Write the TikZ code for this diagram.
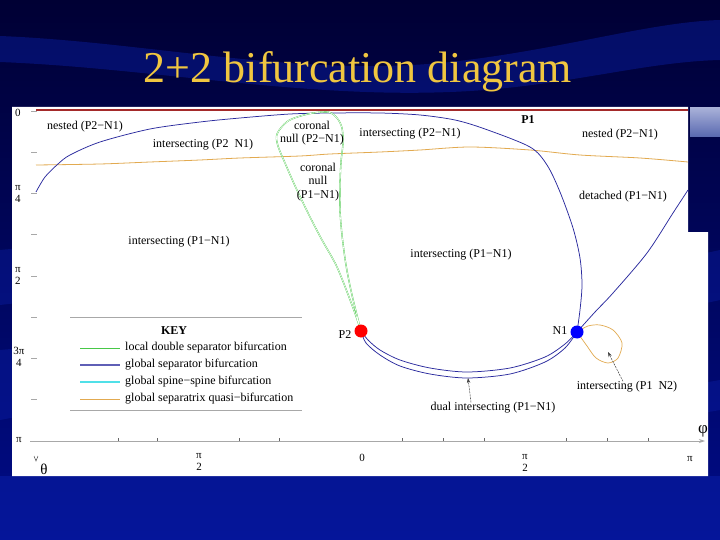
\documentclass[tikz,border=0pt]{standalone}
\usepackage{fontspec}
\setmainfont{Liberation Serif}
\usetikzlibrary{arrows.meta}
\definecolor{bgdark}{HTML}{000034}
\definecolor{bgmid}{HTML}{000C88}
\definecolor{wave}{HTML}{0C22B0}
\definecolor{titlecol}{HTML}{F0C640}
\definecolor{sepblue}{HTML}{2A2A9E}
\definecolor{dsgreen}{HTML}{48C848}
\definecolor{sscyan}{HTML}{50E0E8}
\definecolor{quasi}{HTML}{E2AA50}
\definecolor{topred}{HTML}{A42A2A}
\definecolor{axisgray}{HTML}{A8A8A8}
\definecolor{barlight}{HTML}{A8B0D8}
\definecolor{bardark}{HTML}{5868B0}
\begin{document}
\begin{tikzpicture}[x=1pt,y=-1pt,
  lbl/.style={font=\fontsize{12}{13.5}\selectfont, inner sep=0pt, align=center},
  axl/.style={font=\fontsize{11}{11.5}\selectfont, inner sep=0pt, align=center},
  sep/.style={draw=sepblue, line width=0.75pt},
  ds/.style={draw=dsgreen, line width=0.35pt, double=white, double distance=0.6pt},
  qb/.style={draw=quasi, line width=0.8pt},
  tickmark/.style={draw=axisgray, line width=0.8pt},
  pointer/.style={draw=black!75, line width=0.5pt, dash pattern=on 2pt off 1pt, -{Stealth[length=5pt,width=3.5pt]}},
  nullpt/.style={circle, inner sep=0pt, minimum size=13pt},
]
\useasboundingbox (0,0) rectangle (720,540);
% ---------- slide background ----------
\fill[top color=bgdark, bottom color=bgmid] (0,0) rectangle (720,540);
\fill[wave, opacity=0.4] (0,36) .. controls (150,42) and (300,78) .. (450,62)
   .. controls (560,50) and (650,22) .. (720,20) -- (720,60)
   .. controls (640,62) and (560,88) .. (450,92)
   .. controls (300,98) and (150,68) .. (0,62) -- cycle;
\fill[wave, opacity=0.35] (0,250) .. controls (200,230) and (500,300) .. (720,250)
   -- (720,300) .. controls (500,350) and (200,280) .. (0,305) -- cycle;
\fill[wave, opacity=0.35] (0,350) .. controls (200,330) and (500,420) .. (720,380)
   -- (720,410) .. controls (500,450) and (200,380) .. (0,420) -- cycle;
\fill[wave, opacity=0.45] (0,476) -- (720,476) -- (720,540) -- (0,540) -- cycle;
\fill[top color=barlight, bottom color=bardark] (690,108) rectangle (720,137);
% ---------- plot area ----------
\fill[white] (12,107) -- (688,107) -- (688,232) -- (708,232) -- (708,476) -- (12,476) -- cycle;
\node[font=\fontsize{44}{44}\selectfont, text=titlecol, anchor=base, inner sep=0pt] (title) at (358,83) {2+2 bifurcation diagram};
\draw[topred, line width=1.6pt] (36,110) -- (688,110);
% left axis
\foreach \i in {0,...,8} \draw[tickmark] (31,{111+41.25*\i}) -- (37,{111+41.25*\i});
\node[axl] (y0) at (18,113) {0};
\node[axl] (y1) at (18,194) {π\\4};
\node[axl] (y2) at (18,276) {π\\2};
\node[axl] (y3) at (19,357) {3π\\4};
\node[axl] (y4) at (19,440) {π};
% bottom axis
\coordinate (ax0) at (30,441);
\coordinate (ax1) at (705,441);
\draw[axisgray, line width=1pt, -{Stealth[length=6pt,width=4pt]}] (ax0) -- (ax1);
\foreach \x in {118,157,239,279,402,443,484,566,607,648} \draw[black!60, line width=0.5pt] (\x,438) -- (\x,441);
\draw[black!70, line width=0.5pt] (34,456) -- (36,461) -- (38,456);
\node[font=\fontsize{15}{15}\selectfont, inner sep=0pt] (theta) at (44,469) {θ};
\node[axl] (x1) at (199,462) {π\\2};
\node[axl] (x2) at (362,458) {0};
\node[axl] (x3) at (525,463) {π\\2};
\node[axl] (x4) at (690,459) {π};
\node[font=\fontsize{17}{17}\selectfont, inner sep=0pt] (phi) at (703,431) {φ};
% ---------- null points (positions) ----------
\coordinate (p2c) at (361,331);
\coordinate (n1c) at (577,332);
% ---------- curves ----------
\draw[qb] plot[smooth] coordinates {(36,165) (100,164) (150,162) (200,160) (240,158) (300,156) (330,154) (380,152) (420,150) (470,147) (530,150) (580,155) (640,158) (688,162)};
\draw[sep] plot[smooth] coordinates {(36,192) (45,177) (58,164) (70,155) (100,142) (150,129) (200,122) (240,118) (290,114) (330,113) (380,113) (420,115) (455,120) (485,129) (530,147) (547,165) (560,192) (573,228) (580,258) (582,285) (580,310) (n1c)};
\draw[sep] plot[smooth] coordinates {(n1c) (595,312) (613,293) (647,253) (673,213) (688,190)};
\draw[sep] plot[smooth] coordinates {(p2c) (368,340) (380,350) (400,360) (430,368) (467,372) (510,368) (545,357) (565,344) (n1c)};
\draw[sep] plot[smooth] coordinates {(p2c) (366,343) (380,355) (400,366) (430,374) (467,378) (510,374) (545,362) (565,348) (n1c)};
\draw[ds] plot[smooth] coordinates {(p2c) (352,305) (337,267) (322,240) (310,217) (296,188) (285,163) (278,146) (277,134) (288,121) (308,114) (328,112) (337,118) (342,128) (343,143) (341,162) (340,185) (340,210) (342,235) (346,265) (352,295) (p2c)};
\draw[qb, line width=0.7pt] plot[smooth] coordinates {(n1c) (588,326) (600,325) (613,330) (622,343) (618,358) (608,363) (596,358) (587,346) (n1c)};
% ---------- null points ----------
\node[nullpt, fill=red] (P2) at (p2c) {};
\node[nullpt, fill=blue] (N1) at (n1c) {};
\node[lbl] (P2lab) at (345,335) {P2};
\node[lbl] (N1lab) at (560,331) {N1};
\node[lbl, font=\fontsize{12}{13}\selectfont\bfseries] (P1lab) at (528,120) {P1};
% ---------- region labels ----------
\node[lbl] (l1) at (85,127) {nested (P2−N1)};
\node[lbl] (l2) at (203,145) {intersecting (P2\ \ N1)};
\node[lbl] (l3) at (312,133) {coronal\\null (P2−N1)};
\node[lbl] (l4) at (410,134) {intersecting (P2−N1)};
\node[lbl] (l5) at (620,135) {nested (P2−N1)};
\node[lbl] (l6) at (318,182) {coronal\\null\\(P1−N1)};
\node[lbl] (l7) at (623,197) {detached (P1−N1)};
\node[lbl] (l8) at (179,242) {intersecting (P1−N1)};
\node[lbl] (l9) at (461,255) {intersecting (P1−N1)};
\node[lbl] (l10) at (627,387) {intersecting (P1\ \ N2)};
\node[lbl] (l11) at (493,408) {dual intersecting (P1−N1)};
\coordinate (t10) at (608,352);
\coordinate (t11) at (468,378);
\draw[pointer] ([xshift=-4pt]l10.north) -- (t10);
\draw[pointer] ([xshift=-22pt]l11.north) -- (t11);
% ---------- key ----------
\draw[axisgray, line width=1pt] (70,317) -- (302,317);
\draw[axisgray, line width=1pt] (70,410) -- (302,410);
\node[lbl, font=\fontsize{12}{13}\selectfont\bfseries] (key) at (174,331) {KEY};
\node[lbl, anchor=west] (k1) at (125,348) {local double separator bifurcation};
\node[lbl, anchor=west] (k2) at (125,365) {global separator bifurcation};
\node[lbl, anchor=west] (k3) at (125,382) {global spine−spine bifurcation};
\node[lbl, anchor=west] (k4) at (125,399) {global separatrix quasi−bifurcation};
\draw[dsgreen, line width=0.8pt] (80,348) -- ([xshift=-5pt]k1.west);
\draw[sepblue!75, line width=2pt] (80,365) -- ([xshift=-5pt]k2.west);
\draw[sscyan, line width=2pt] (80,382) -- ([xshift=-5pt]k3.west);
\draw[quasi, line width=0.8pt] (80,399) -- ([xshift=-5pt]k4.west);
\end{tikzpicture}
\end{document}
